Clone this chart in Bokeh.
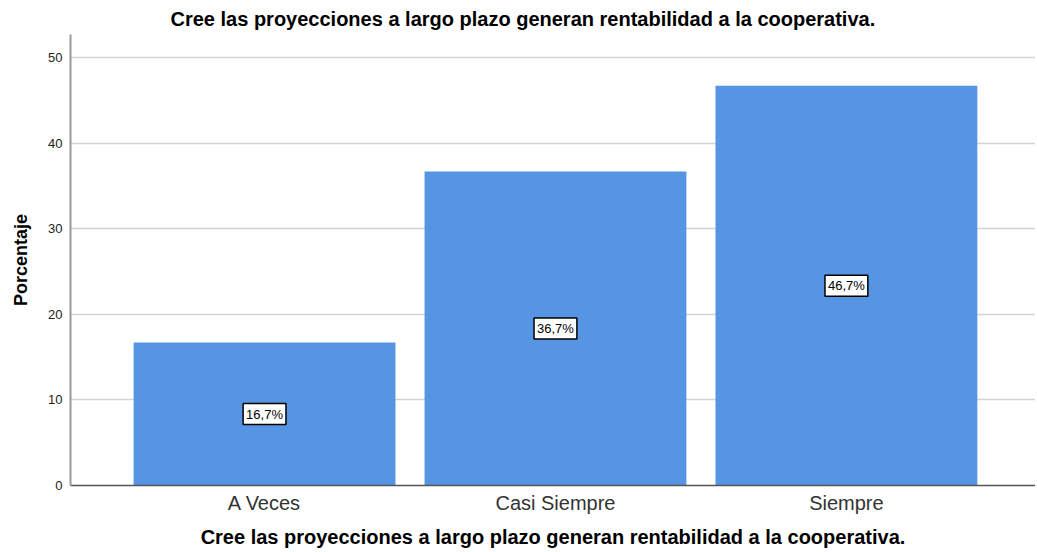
from bokeh.plotting import figure
from bokeh.models import ColumnDataSource, Label, FixedTicker, Range1d
from bokeh.embed import file_html
from bokeh.resources import INLINE

categories = ["A Veces", "Casi Siempre", "Siempre"]
values = [16.7, 36.7, 46.7]
labels = ["16,7%", "36,7%", "46,7%"]
y_ticks = [0, 10, 20, 30, 40, 50]

title_text = "Cree las proyecciones a largo plazo generan rentabilidad a la cooperativa."

xs = list(range(len(categories)))
src = ColumnDataSource(dict(x=xs, top=values))

p = figure(width=1035, height=550, output_backend="svg", toolbar_location=None,
           x_range=Range1d(-0.667, 2.65), y_range=Range1d(0, 52.7),
           min_border_left=70, min_border_right=0, min_border_top=34, min_border_bottom=64)
p.outline_line_color = None
p.title.text = title_text
p.title.align = "left"
p.title.offset = 100
p.title.text_font = "Liberation Sans"
p.title.text_font_size = "20px"
p.title.text_font_style = "bold"
p.title.text_color = "#000000"

p.vbar(x="x", top="top", width=0.9, bottom=0, source=src,
       fill_color="#5595E3", line_color=None)

for xi, v, lab in zip(xs, values, labels):
    p.add_layout(Label(x=xi, y=v / 2, text=lab,
                       text_align="center", text_baseline="middle",
                       text_font="Liberation Sans", text_font_size="13px", text_color="#000000",
                       background_fill_color="white", border_line_color="black",
                       border_line_width=1.5, padding=3))

p.xaxis.ticker = FixedTicker(ticks=xs)
p.xaxis.major_label_overrides = {i: c for i, c in enumerate(categories)}
p.xaxis.major_label_text_font = "Liberation Sans"
p.xaxis.major_label_text_font_size = "20px"
p.xaxis.major_label_text_color = "#333333"
p.xaxis.major_tick_line_color = None
p.xaxis.minor_tick_line_color = None
p.xaxis.axis_line_color = "#555555"
p.xaxis.axis_line_width = 1.5
p.xaxis.major_label_standoff = 0
p.xaxis.axis_label = title_text
p.xaxis.axis_label_text_font = "Liberation Sans"
p.xaxis.axis_label_text_font_size = "20px"
p.xaxis.axis_label_text_font_style = "bold"
p.xaxis.axis_label_text_color = "#000000"
p.xaxis.axis_label_standoff = 9

p.yaxis.ticker = FixedTicker(ticks=y_ticks)
p.yaxis.major_label_text_font = "Liberation Sans"
p.yaxis.major_label_text_font_size = "13px"
p.yaxis.major_label_text_color = "#222222"
p.yaxis.major_tick_line_color = None
p.yaxis.minor_tick_line_color = None
p.yaxis.axis_line_color = "#999999"
p.yaxis.axis_line_width = 2
p.yaxis.major_label_standoff = 2
p.yaxis.axis_label = "Porcentaje"
p.yaxis.axis_label_text_font = "Liberation Sans"
p.yaxis.axis_label_text_font_size = "18px"
p.yaxis.axis_label_text_font_style = "bold"
p.yaxis.axis_label_text_color = "#000000"
p.yaxis.axis_label_standoff = 14

p.xgrid.grid_line_color = None
p.ygrid.grid_line_color = "#d4d4d4"
p.ygrid.grid_line_width = 1.5

open("out.html", "w").write(file_html(p, INLINE))
